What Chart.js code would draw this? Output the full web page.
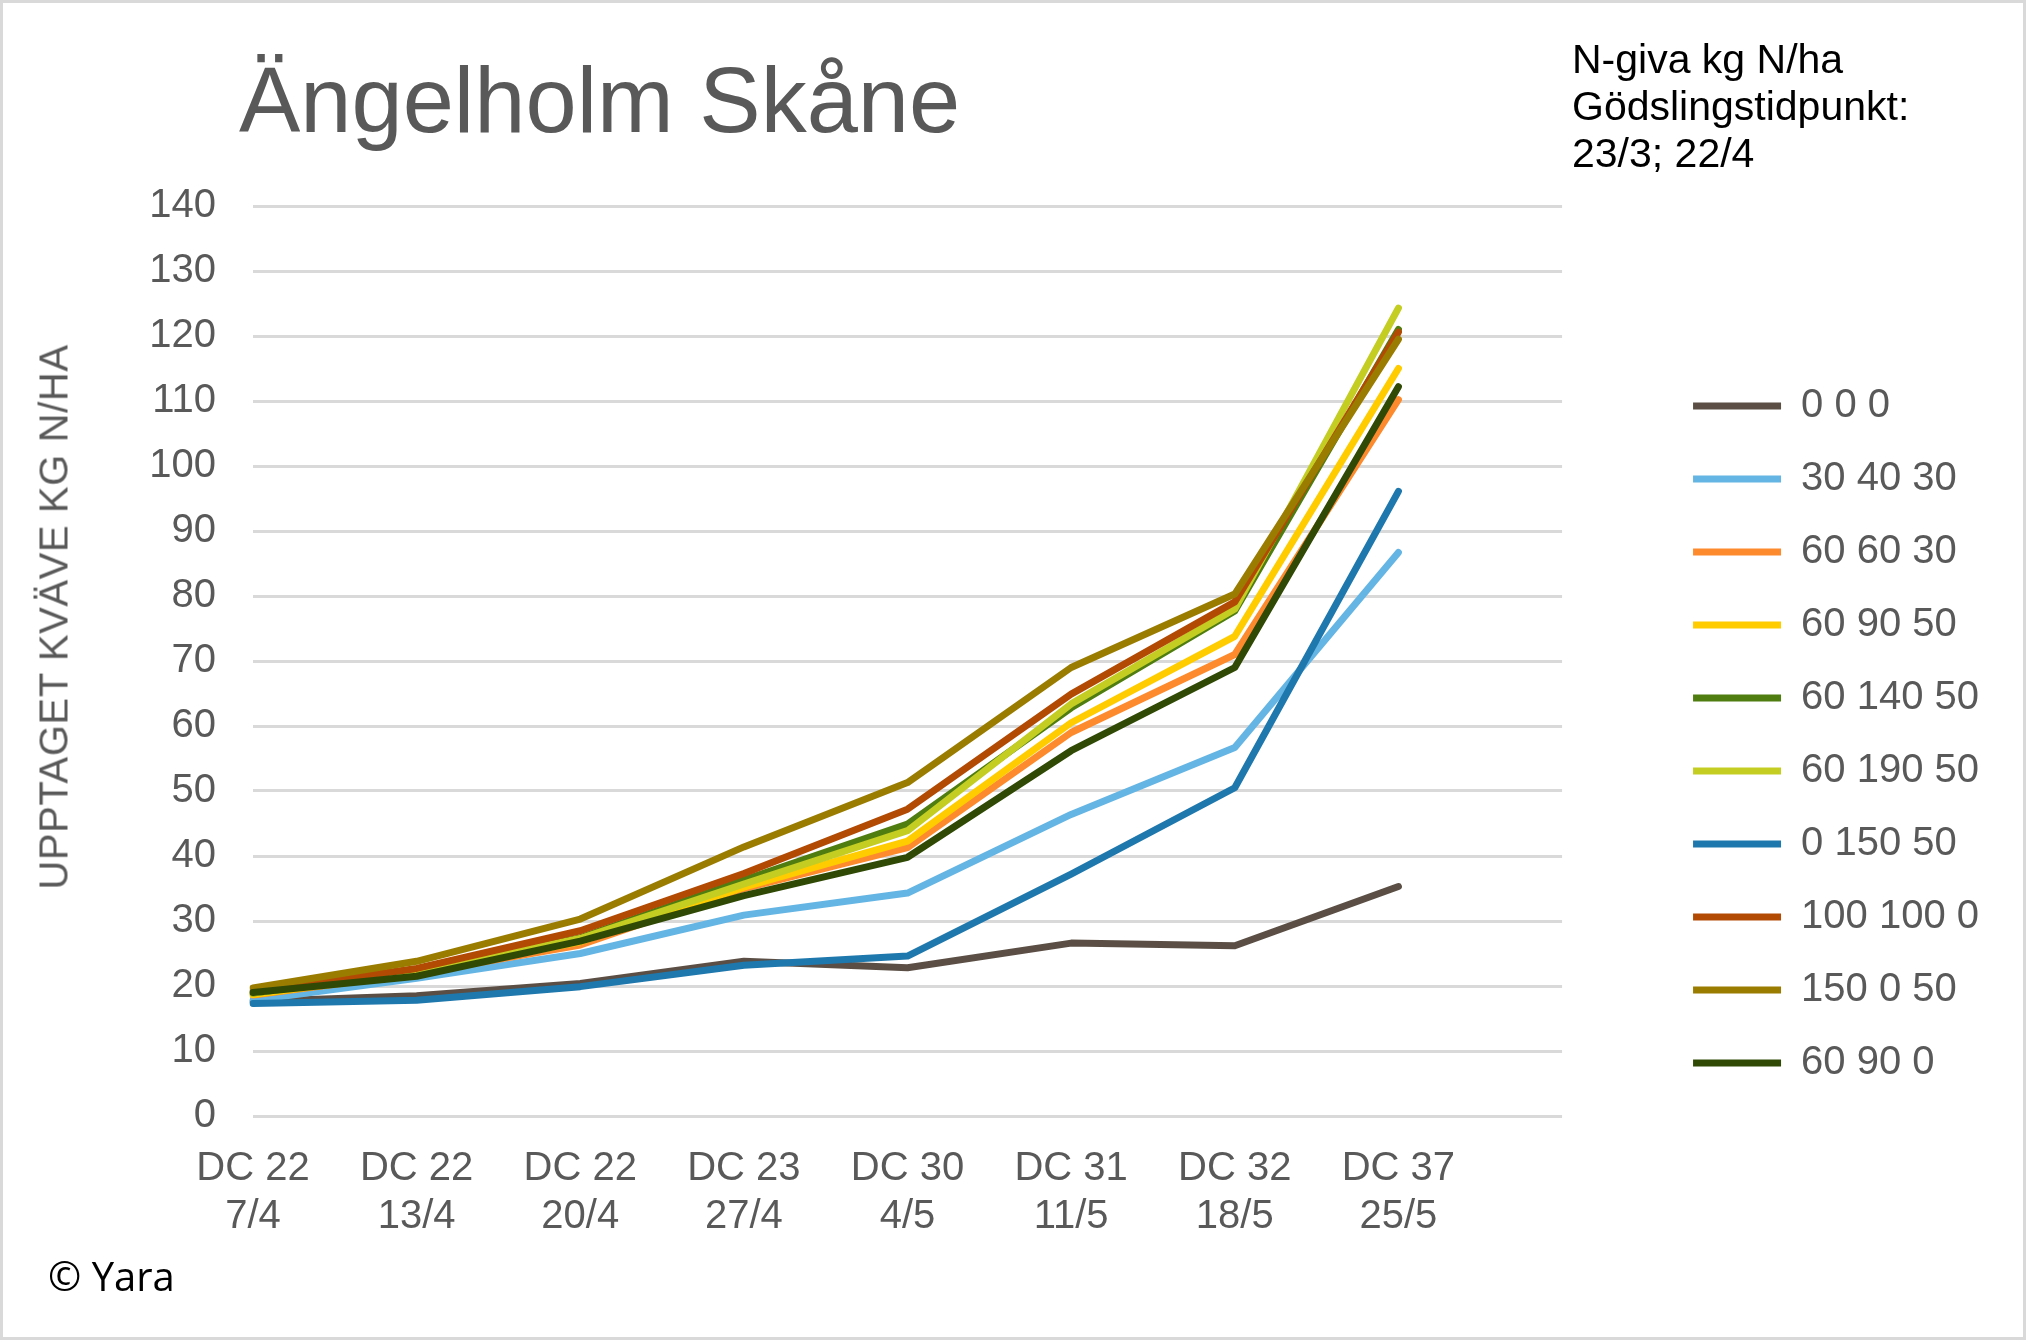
<!DOCTYPE html>
<html>
<head>
<meta charset="utf-8">
<script src="https://cdn.jsdelivr.net/npm/chart.js@4"></script>
<style>
  body { margin: 0; background: #fff; }
  #wrap { position: relative; width: 2026px; height: 1340px; font-family: "Liberation Sans", Arial, sans-serif; }
  #frame { position: absolute; left: 0; top: 0; width: 2026px; height: 1340px; box-sizing: border-box; border: 3px solid #d9d9d9; pointer-events: none; }
  .txt { position: absolute; white-space: nowrap; }
  #title { left: 239px; top: 54px; font-size: 92px; line-height: 1; color: #595959; }
  #note { left: 1572px; top: 36px; font-size: 41px; line-height: 47px; color: #000; }
  #ytitle { left: 54px; top: 617px; font-size: 40px; letter-spacing: 0.6px; color: #595959; transform: translate(-50%, -50%) rotate(-90deg); }
  #copy { left: 48px; top: 1256px; font-family: "Open Sans", sans-serif; font-size: 40px; line-height: 1; color: #000; }
</style>
</head>
<body>
<div id="wrap">
  <canvas id="chart"></canvas>
  <div class="txt" id="title">Ängelholm Skåne</div>
  <div class="txt" id="note">N-giva kg N/ha<br>Gödslingstidpunkt:<br>23/3; 22/4</div>
  <div class="txt" id="ytitle">UPPTAGET KVÄVE KG N/HA</div>
  <div class="txt" id="copy">© Yara</div>
  <div id="frame"></div>
</div>
<script>
// categories (last one empty, Excel leaves a gap after DC 37)
const labels = [
    ['DC 22', '7/4'],
    ['DC 22', '13/4'],
    ['DC 22', '20/4'],
    ['DC 23', '27/4'],
    ['DC 30', '4/5'],
    ['DC 31', '11/5'],
    ['DC 32', '18/5'],
    ['DC 37', '25/5'],
    '',
];

const seriesNames = ['0 0 0', '30 40 30', '60 60 30', '60 90 50', '60 140 50',
    '60 190 50', '0 150 50', '100 100 0', '150 0 50', '60 90 0'];

const s000 = [17.6, 18.5, 20.4, 23.8, 22.8, 26.6, 26.2, 35.3];
const s304030 = [17.8, 21.2, 25.0, 30.9, 34.3, 46.4, 56.7, 86.7];
const s606030 = [18.6, 21.9, 26.3, 35.0, 41.3, 59.0, 71.0, 110.2];
const s609050 = [18.7, 22.0, 26.8, 35.2, 42.3, 60.5, 73.8, 115.0];
const s6014050 = [18.9, 22.3, 27.4, 36.3, 44.9, 62.8, 77.7, 121.0];
const s6019050 = [18.9, 22.2, 27.3, 35.7, 43.9, 63.4, 78.0, 124.3];
const s015050 = [17.3, 17.8, 19.9, 23.2, 24.6, 37.2, 50.5, 96.1];
const s1001000 = [19.2, 22.7, 28.5, 37.3, 47.2, 64.9, 79.1, 120.6];
const s150050 = [19.7, 23.8, 30.3, 41.4, 51.3, 69.0, 80.3, 119.5];
const s60900 = [19.0, 21.5, 26.9, 33.9, 39.8, 56.2, 69.0, 112.2];

const seriesValues = [s000, s304030, s606030, s609050, s6014050,
    s6019050, s015050, s1001000, s150050, s60900];

const colors = ['#5b4f45', '#65b5e4', '#fd8a2d', '#ffcc00', '#507d10',
    '#c3cd22', '#1f78ad', '#b24a04', '#9a7d00', '#304a06'];

const yTicks = [0, 140, 10]; // min, max, step

const gridColor = '#d9d9d9';
const textColor = '#595959';
const font = { family: '"Liberation Sans", Arial, sans-serif', size: 40 };

const datasets = seriesNames.map((name, i) => ({
    label: name,
    data: seriesValues[i],
    borderColor: colors[i],
    backgroundColor: colors[i],
    borderWidth: 7,
    borderCapStyle: 'round',
    borderJoinStyle: 'round',
    pointRadius: 0,
    tension: 0,
    // Excel draws the last series on top
    order: seriesNames.length - i,
}));

const ctx = document.getElementById('chart').getContext('2d');

new Chart(ctx, {
    type: 'line',
    data: { labels, datasets },
    options: {
        responsive: true,
        maintainAspectRatio: false,
        animation: false,
        layout: { padding: { top: 206, right: 37, bottom: 0, left: 0 } },
        plugins: {
            title: { display: false },
            tooltip: { enabled: false },
            legend: {
                position: 'right',
                align: 'end',
                fullSize: false,
                labels: {
                    usePointStyle: true,
                    pointStyle: 'line',
                    pointStyleWidth: 88,
                    padding: 33,
                    color: textColor,
                    font: font,
                    sort: (a, b) => a.datasetIndex - b.datasetIndex,
                },
            },
        },
        scales: {
            x: {
                offset: false,
                grid: { display: false, drawTicks: false },
                border: { display: false },
                ticks: {
                    color: textColor,
                    font: { ...font, lineHeight: 1.2 },
                    padding: 29,
                    maxRotation: 0,
                    autoSkip: false,
                },
                afterFit(scale) { scale.height = 224; },
            },
            y: {
                min: yTicks[0],
                max: yTicks[1],
                grid: { color: gridColor, lineWidth: 3, drawTicks: false },
                border: { display: false },
                ticks: {
                    stepSize: yTicks[2],
                    color: textColor,
                    font: font,
                    padding: 37,
                },
                afterFit(scale) { scale.width = 253; },
            },
            // empty spacer between the plot and the legend
            gap: {
                position: 'right',
                display: true,
                grid: { display: false, drawTicks: false },
                border: { display: false },
                ticks: { display: false },
                afterFit(scale) { scale.width = 98; },
            },
        },
    },
});
</script>
</body>
</html>
